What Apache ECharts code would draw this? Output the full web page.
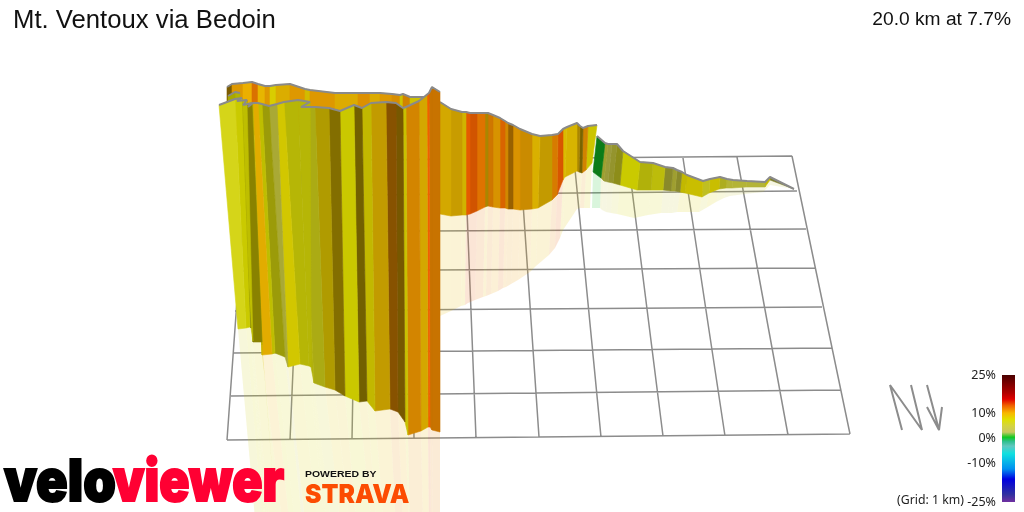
<!DOCTYPE html>
<html>
<head>
<meta charset="utf-8">
<style>html,body{margin:0;background:#fff}#main{width:1024px;height:512px}</style>
<script src="https://cdn.jsdelivr.net/npm/echarts@6/dist/echarts.min.js"></script>
</head>
<body>
<div id="main"></div>
<script>
// wall stations: topX, topY, baseX, baseY, shadowX, shadowY, grade %, facing light
const backWall = [
  [227,87,227,135,0,0,10,.5],[232,84,232,135,0,0,10.5,.9],[243,83,243,135,0,0,10,.95],[252,82,252,135,0,0,12,.9],
  [258,84,258,135,0,0,9.5,.95],[265,86,265,135,0,0,10.5,.9],[270,86,270,135,0,0,8,.95],[276,85,276,135,0,0,9.5,.9],
  [290,84,290,135,0,0,10.5,.9],[305,89,305,135,0,0,8.5,.9],[310,90,310,135,0,0,10.5,.9],[335,93,335,135,0,0,9.6,.9],
  [358,93,358,135,0,0,10.8,.9],[370,93,370,135,0,0,9.6,.9],[380,93,380,135,0,0,10.5,.9],[392,94,392,135,0,0,10.8,.88],
  [400,95,400,135,0,0,8,.9],[403,94,403,135,0,0,11,.85],[410,97,410,135,0,0,8,.9],[428,97,428,135,0,0,8,.9]
];
const backFold = [
  [240,93,240,120,0,0,7.5,.8],[235,92,235,120,0,0,7.5,.75],[228,96,228,120,0,0,7.5,.7]
];
const farEastWall = [
  [794,189,794,189,794,189,4,.6],[770,177,770,180,770,185,8,.85],[765,182,765,187,763,192,5,.85],[747,181,746,187,745,194,5,.85],
  [733,180,732,188,730,196,5,.85],[727,179,726,188,724,198,6,.8],[720,177,719,189,716,202,8,.88],[710,179,709,193,706,208,6,.88],
  [703,181,702,197,699,212,8,.88],[687,175,685,193,682,212,8,.85],[682,172,680,192,677,212,5,.65],[677,170,675,191,672,213,5,.75],
  [673,168,671,191,668,213,5,.65],[665,167,663,190,661,213,7,.85],[653,163,651,190,648,215,7,.8],[640,162,637,190,634,218,7.5,.9],
  [623,151,620,185,617,214,6,.65],[617,144,613,183,611,213,5,.7],[612,144,608,182,606,212,4,.75],[608,144,604,181,602,210,5,.75],
  [605,143,601,178,600,208,.4,.62],[597,136,593,172,592,208,.4,.62]
];
const eastWall = [
  [597,125,592,163,590,208,7.8,.9],[588,126,586,170,584,208,11,.85],[583,128,582,173,580,208,9,.5],[580,126,579,172,577,209,9.5,.7],
  [577,123,577,171,575,212,9,.9],[567,127,565,177,563,230,8.8,.92],[563,129,563,180,560,238,13,.9],[558,134,557,195,555,248,11.5,.88],
  [552,135,552,200,549,255,9.5,.8],[540,136,538,208,536,266,9.3,.9],[532,134,532,209,530,272,10.5,.82],[520,129,520,210,518,280,10.6,.88],
  [513,125,513,209,511,284,11,.62],[508,123,508,209,506,287,10.8,.85],[505,121,505,208,503,288,12.5,.9],[500,118,500,208,498,291,10.5,.87],
  [493,115,493,207,491,294,11.5,.85],[488,113,488,206,486,296,9.5,.7],[485,113,485,207,483,297,12,.92],[477,113,477,211,475,300,13,.87],
  [470,113,470,214,468,303,13,.95],[466,112,466,215,465,305,8.8,.88],[462,112,462,215,461,306,9.6,.82],[451,109,451,216,451,311,9.4,.87],
  [440,102,440,214,440,316,9.6,.7]
];
const westWall = [
  [440,92,440,432,440,530,11.5,.82],[432,87,432,430,433,530,11.5,.82],[429,93,430,427,431,530,13,1],[427,95,428,427,429,530,9.5,.87],
  [419,101,421,431,423,530,11,.86],[406,107,408,435,410,530,7.8,.88],[403,108,405,422,409,530,10,.48],[396,103,398,412,403,530,11.2,.55],
  [386,102,390,409,396,530,9.4,.8],[371,103,375,411,384,530,8,.85],[362,108,367,401,377,530,9,.48],[354,105,359,402,372,530,7.6,.9],
  [340,111,345,396,357,530,9,.55],[329,108,335,390,350,530,8.6,.75],[315,107,325,387,341,530,6.5,.78],[301,107,314,383,332,530,7,.8],
  [300,107,311,367,327,530,7.2,.82],[310,102,311,367,327,530,7.2,.82],[298,100,309,366,325,530,7.2,.82],[284,102,300,364,318,530,8,.92],
  [277,104,288,367,306,530,4.8,.8],[269,106,285,357,303,530,7,.7],[262,104,275,353,296,530,7.5,.85],[258,103,272,354,290,530,9.8,.92],
  [253,103,262,355,283,530,8,.85],[248,107,262,345,277,530,8,.8],[252,103,262,342,277,530,8,.6],[243,105,253,342,270,530,8,.55],
  [247,100,253,341,268,530,7.5,.85],[237,101,251,328,266,530,7.5,.6],[242,98,250,327,265,530,7.5,.9],[235,99,246,328,263,530,6.5,.97],
  [219,105,238,329,256,530,6.5,.97]
];

// colour scale, as on the legend bar
const scaleGrades = [-25,-22,-16,-12,-6,-3,-1.2,.5,2.5,5,7.5,10,13,15.5,18,25];
const scaleColors = ['#7030a0','#3030a0','#0000e0','#0090f0','#10e0e0','#60c8c0','#30c090','#10c820','#c8c860','#d4d440','#e0e000','#f8b800','#f06000','#e00000','#b00000','#4a0000'];
const gradeTicks = [25,10,0,-10,-25];

// map grid, each line is two ends and a break
const gridRows = [
  [247,161,792,156],[244,196,797,191],[241,232,806,229],[238,271,815,268],[235,311,822,307],[233,353,832,348],[231,396,841,390],[227,440,850,434]
];
const gridCols = [
  [227,440,247,161],[290,440,302,160],[352,439,357,160],[414,439,411,160],[476,438,465,159],[539,437,520,159],[601,437,574,159],[663,436,628,158],[725,436,683,158],[788,435,737,157],[850,434,792,156]
];
const northArrow = [
  [[902,430],[890,385],[922,430],[911,385]],
  [[927,385],[939,430]],
  [[927,407],[939,430],[942,407]]
];

function hex(c) {
  return [parseInt(c.slice(1,3),16),parseInt(c.slice(3,5),16),parseInt(c.slice(5,7),16)];
}
function gradeRgb(g) {
  let i = 0;
  while (i < scaleGrades.length-2 && g > scaleGrades[i+1]) i++;
  const t = Math.min(1,Math.max(0,(g-scaleGrades[i])/(scaleGrades[i+1]-scaleGrades[i])));
  const a = hex(scaleColors[i]), b = hex(scaleColors[i+1]);
  return a.map((v,k) => v+(b[k]-v)*t);
}
function wallColor(g,light,alpha) {
  const c = gradeRgb(g).map(v => Math.round(v*light));
  return `rgba(${c[0]},${c[1]},${c[2]},${alpha})`;
}

// a row and its neighbour make one quad
function segments(rows,a,b,c,d) {
  const out = [];
  for (let i = 0; i < rows.length-1; i++) {
    const r = rows[i], n = rows[i+1];
    out.push([r[a],r[b],r[c],r[d],n[a],n[b],n[c],n[d],r[6],r[7]]);
  }
  return out;
}
function quadSeries(data,z,alpha,isShadow) {
  return {
    type:'custom', z:z, silent:true, clip:true, data:data,
    xAxisIndex:0, yAxisIndex:0,
    renderItem:function(params,api) {
      const pts = [[0,1],[4,5],[6,7],[2,3]].map(p => api.coord([api.value(p[0]),api.value(p[1])]));
      const col = wallColor(api.value(8),isShadow ? .95 : api.value(9),alpha);
      return {type:'polygon',shape:{points:pts},style:{fill:col,stroke:isShadow ? null : col,lineWidth:isShadow ? 0 : .6}};
    }
  };
}
function edgeSeries(rows,z) {
  return {type:'line',z:z,silent:true,symbol:'none',xAxisIndex:0,yAxisIndex:0,
    data:rows.map(r => [r[0],r[1]]),lineStyle:{color:'#8a8a8a',width:2}};
}
function linesSeries(parts,z,width) {
  const d = [];
  parts.forEach(p => { p.forEach(q => d.push(q)); d.push(['-','-']); });
  return {type:'line',z:z,silent:true,symbol:'none',xAxisIndex:0,yAxisIndex:0,connectNulls:false,
    data:d,lineStyle:{color:'#8c8c8c',width:width}};
}

const chart = echarts.init(document.getElementById('main'));
const gridParts = gridRows.concat(gridCols).map(l => [[l[0],l[1]],[l[2],l[3]]]);

const option = {
  animation:false,
  title:[
    {text:'Mt. Ventoux via Bedoin',left:8,top:3,textStyle:{fontFamily:'Liberation Sans',fontSize:25.7,fontWeight:'normal',color:'#111'}},
    {text:'20.0 km at 7.7%',right:8,top:5,textStyle:{fontFamily:'Liberation Sans',fontSize:19.2,fontWeight:'normal',color:'#111'}}
  ],
  grid:[
    {left:0,top:0,width:1024,height:512},
    {left:1002,top:375,width:13,height:127}
  ],
  xAxis:[
    {type:'value',min:0,max:1024,show:false,gridIndex:0},
    {type:'value',min:0,max:1,show:false,gridIndex:1}
  ],
  yAxis:[
    {type:'value',min:0,max:512,inverse:true,show:false,gridIndex:0},
    {type:'value',min:-25,max:25,gridIndex:1,splitLine:{show:false},axisLine:{show:false},axisTick:{show:false},
      axisLabel:{customValues:gradeTicks,formatter:'{value}%',margin:6,fontFamily:'Noto Sans',fontSize:12.5,color:'#222'}}
  ],
  series:[
    linesSeries(gridParts,1,1.5),
    quadSeries(segments(farEastWall,2,3,4,5),2,.16,true),
    quadSeries(segments(eastWall,2,3,4,5),2,.16,true),
    quadSeries(segments(westWall,2,3,4,5),2,.16,true),
    quadSeries(segments(farEastWall,0,1,2,3),4,1,false),
    edgeSeries(farEastWall,5),
    quadSeries(segments(eastWall,0,1,2,3),4,1,false),
    edgeSeries(eastWall,5),
    quadSeries(segments(backWall,0,1,2,3),6,1,false),
    edgeSeries(backWall,7),
    quadSeries(segments(backFold,0,1,2,3),7,1,false),
    edgeSeries(backFold,7),
    quadSeries(segments(westWall,0,1,2,3),8,1,false),
    edgeSeries(westWall,9),
    linesSeries(northArrow,3,2),
    {
      type:'custom',silent:true,xAxisIndex:1,yAxisIndex:1,data:[[0,25,1,-25]],
      renderItem:function(params,api) {
        const a = api.coord([api.value(0),api.value(1)]), b = api.coord([api.value(2),api.value(3)]);
        const stops = scaleGrades.map((g,i) => ({offset:(25-g)/50,color:scaleColors[i]})).reverse();
        return {type:'rect',shape:{x:a[0],y:a[1],width:b[0]-a[0],height:b[1]-a[1]},
          style:{fill:new echarts.graphic.LinearGradient(0,0,0,1,stops)}};
      }
    }
  ],
  graphic:[
    {type:'text',z:20,x:897,y:494,style:{text:'(Grid: 1 km)',font:'12.3px "Noto Sans"',fill:'#222'}},
    {type:'text',z:20,x:4,y:484,scaleX:.9,style:{text:'velo',font:'900 58px Inter',fill:'#000',stroke:'#000',lineWidth:2,textVerticalAlign:'middle'}},
    {type:'text',z:20,x:113,y:484,scaleX:.86,style:{text:'viewer',font:'900 58px Inter',fill:'#ff0033',stroke:'#ff0033',lineWidth:2,textVerticalAlign:'middle'}},
    {type:'text',z:20,x:305,y:469,scaleX:1.1,style:{text:'POWERED BY',font:'bold 9.5px "Liberation Sans"',fill:'#111'}},
    {type:'text',z:20,x:305,y:482,scaleX:.95,style:{text:'STRAVA',font:'900 26px Inter',fill:'#fc4c02'}}
  ]
};
chart.setOption(option);
</script>
</body>
</html>
